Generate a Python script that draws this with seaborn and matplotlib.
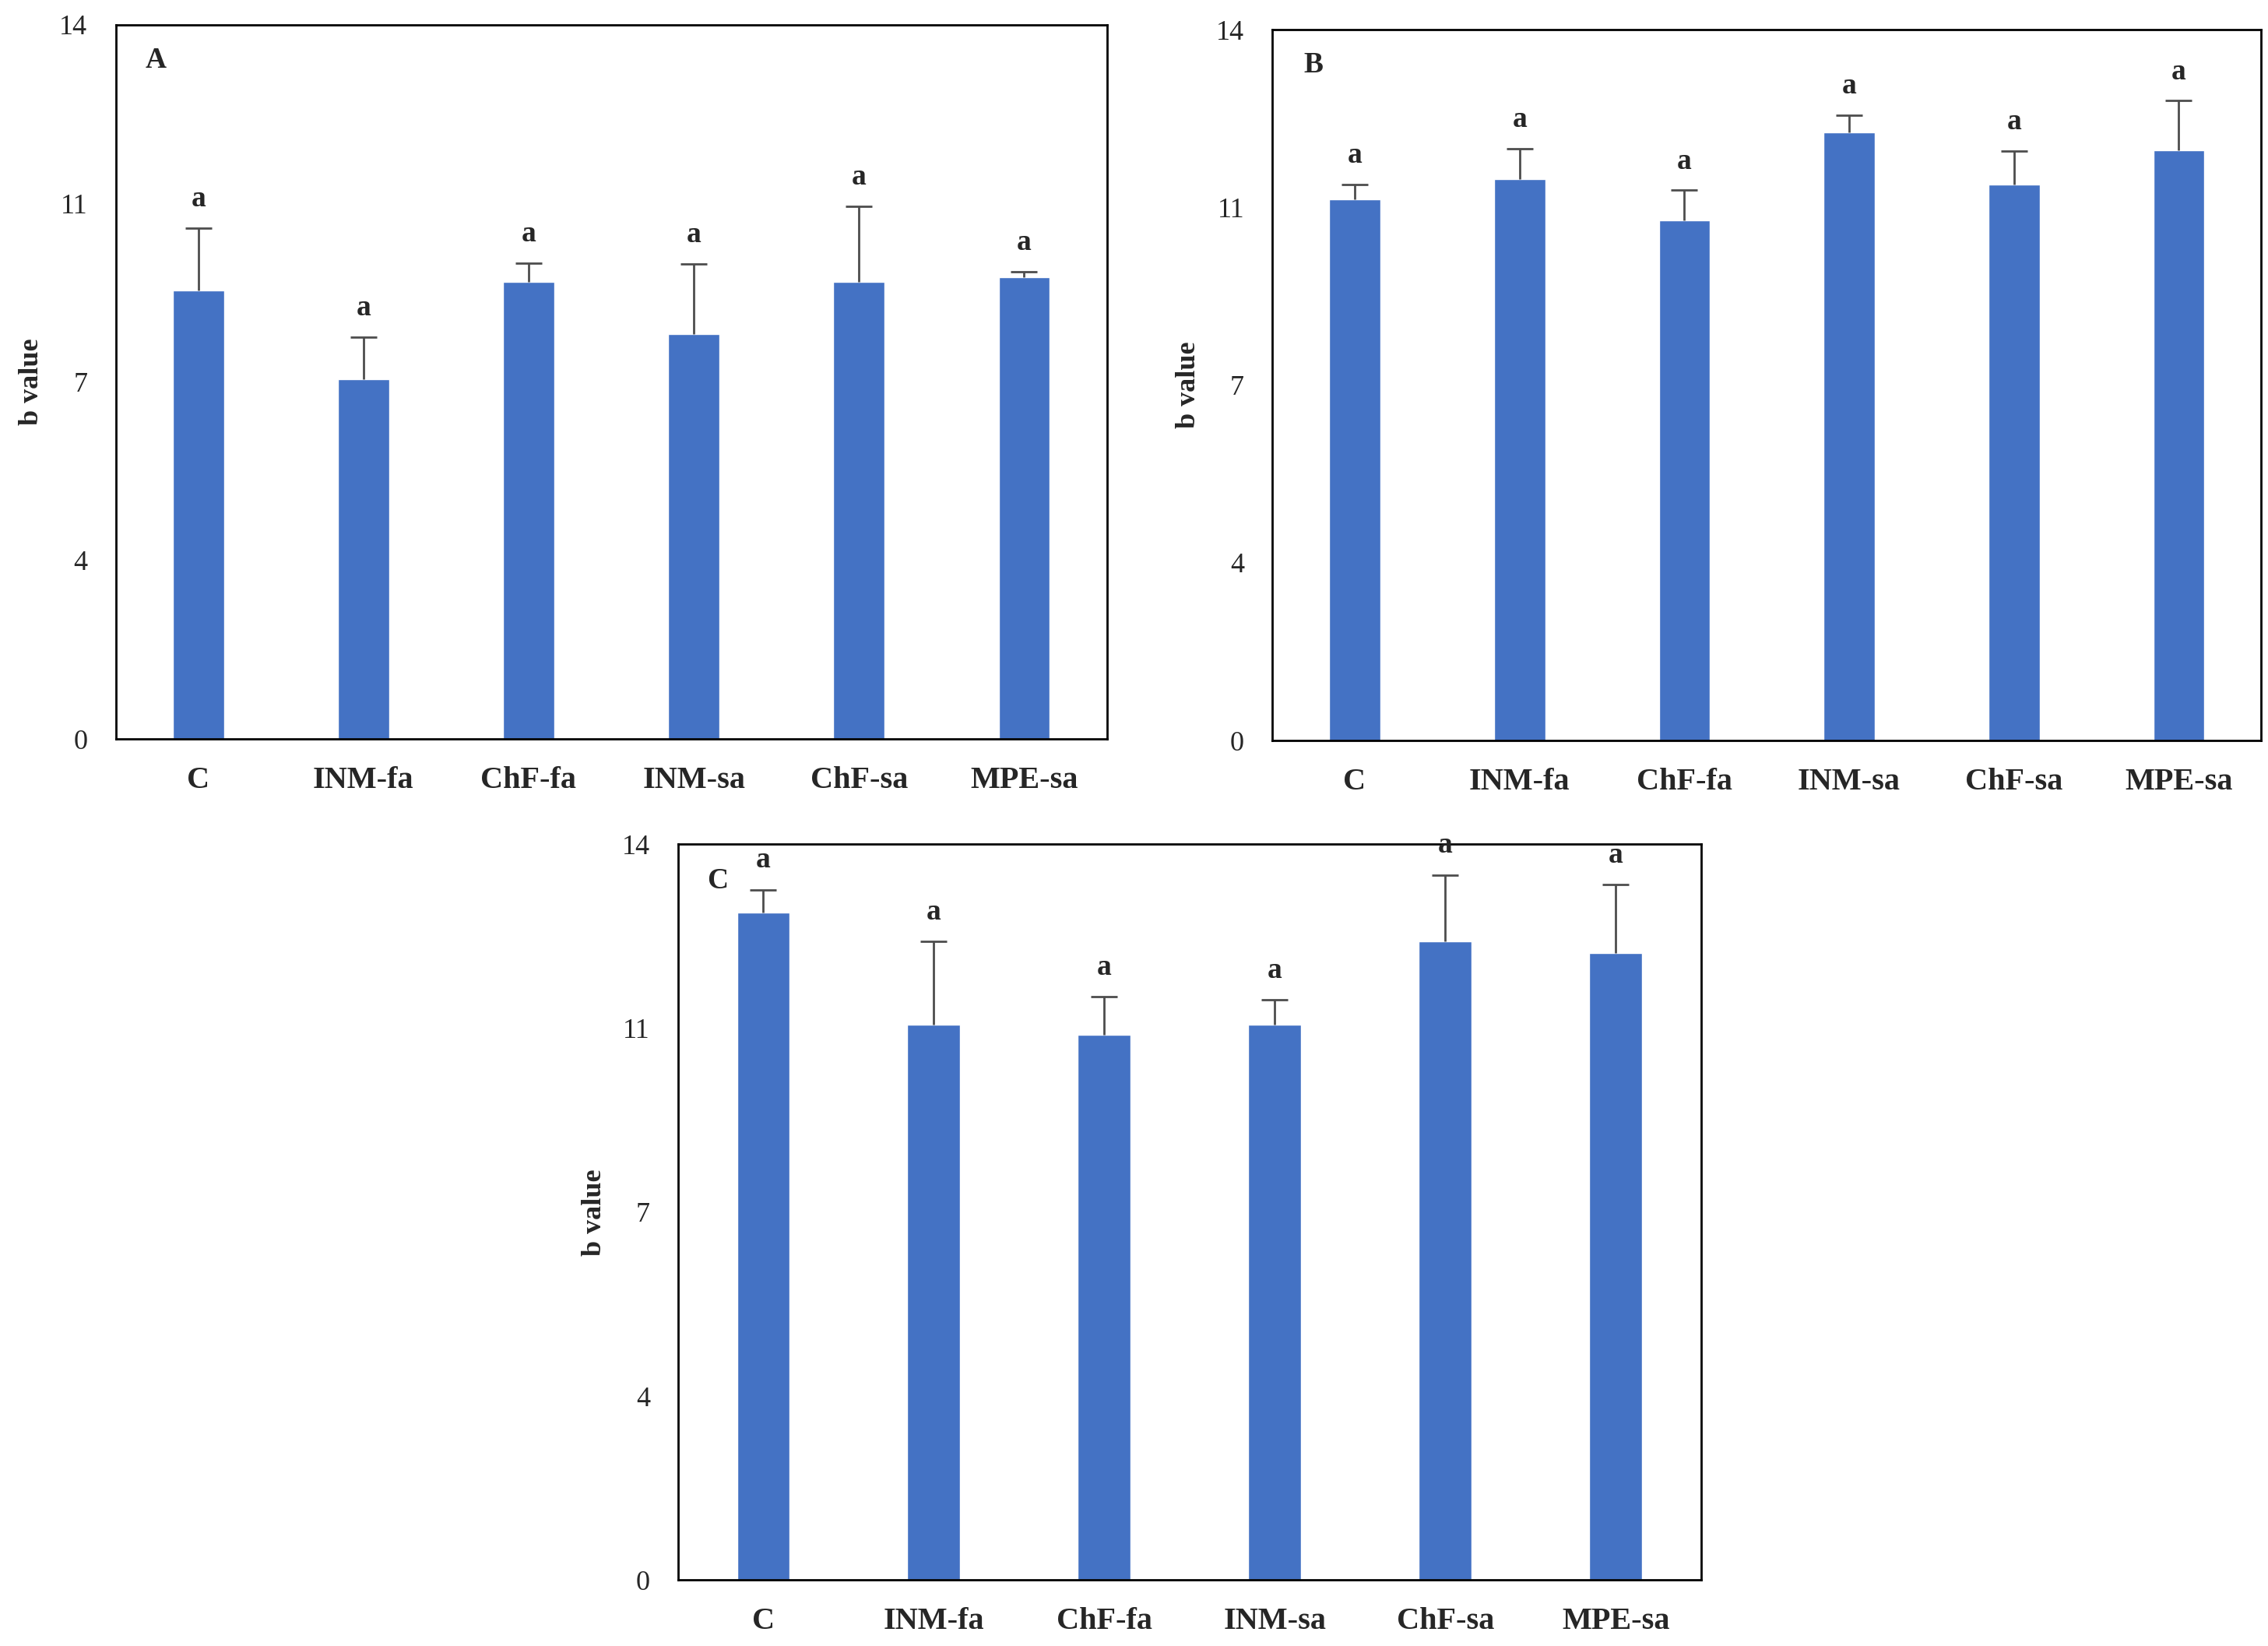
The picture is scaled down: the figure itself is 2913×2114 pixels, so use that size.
#!/usr/bin/env python3
"""
b value bar charts for three storage panels (A, B, C)
"""

import pandas as pd
import matplotlib.pyplot as plt
import seaborn as sns

treatments = ['C', 'INM-fa', 'ChF-fa', 'INM-sa', 'ChF-sa', 'MPE-sa']

# mean b values and upper error (SD)
b_mean_A = [8.79, 7.06, 8.96, 7.94, 8.96, 9.05]
b_err_A = [1.23, 0.82, 0.37, 1.37, 1.48, 0.11]
b_mean_B = [10.66, 11.06, 10.24, 11.98, 10.95, 11.63]
b_err_B = [0.29, 0.60, 0.60, 0.34, 0.66, 0.97]
b_mean_C = [12.70, 10.57, 10.38, 10.57, 12.15, 11.93]
b_err_C = [0.44, 1.58, 0.72, 0.47, 1.27, 1.30]
letters = ['a', 'a', 'a', 'a', 'a', 'a']

y_ticks = [0, 3.5, 7, 10.5, 14]
y_tick_labels = ['0', '4', '7', '11', '14']

BAR_COLOR = '#4472C4'
SERIF = ['Liberation Serif', 'DejaVu Serif']


def draw_panel(ax, means, errs, panel, panel_x, ylabel_x):
    df = pd.DataFrame({'treatment': treatments, 'b': means, 'err': errs})
    sns.barplot(data=df, x='treatment', y='b', color=BAR_COLOR, width=0.31,
                errorbar=None, saturation=1, ax=ax)
    xs = list(range(len(df)))
    eb = ax.errorbar(xs, df['b'], yerr=[[0] * len(df), df['err']], fmt='none',
                     ecolor='#4d4d4d', elinewidth=2, capsize=12, capthick=2)
    # only the upper cap is drawn, as in the original
    eb[1][0].set_visible(False)

    for x, m, e, lt in zip(xs, df['b'], df['err'], letters):
        ax.text(x, m + e + 0.3, lt, ha='center', va='bottom',
                fontsize=27, fontweight='bold', family=SERIF)

    ax.text(panel_x, 0.95, panel, transform=ax.transAxes, ha='left', va='center',
            fontsize=27, fontweight='bold', family=SERIF)

    ax.set_xlim(-0.5, len(df) - 0.5)
    ax.set_ylim(0, 14)
    ax.set_yticks(y_ticks)
    ax.set_yticklabels(y_tick_labels, fontsize=26, family=SERIF)
    for lab in ax.get_xticklabels():
        lab.set_fontsize(29)
        lab.set_fontweight('bold')
        lab.set_family(SERIF)
    ax.tick_params(axis='both', length=0)
    ax.tick_params(axis='y', pad=26)
    ax.tick_params(axis='x', pad=25)
    ax.set_xlabel('')
    ax.set_ylabel('b value', fontsize=26, fontweight='bold', family=SERIF)
    ax.yaxis.set_label_coords(ylabel_x, 0.5)
    for sp in ax.spines.values():
        sp.set_visible(True)
        sp.set_color('black')
        sp.set_linewidth(2)
    ax.grid(False)


def main():
    sns.set_style('white')
    plt.rcParams['font.family'] = SERIF

    fig = plt.figure(figsize=(29.13, 21.14), dpi=100)
    ax_a = fig.add_axes([0.051, 0.551, 0.437, 0.434])
    ax_b = fig.add_axes([0.561, 0.550, 0.436, 0.432])
    ax_c = fig.add_axes([0.299, 0.040, 0.451, 0.447])

    draw_panel(ax_a, b_mean_A, b_err_A, 'A', 0.03, -0.072)
    draw_panel(ax_b, b_mean_B, b_err_B, 'B', 0.032, -0.072)
    draw_panel(ax_c, b_mean_C, b_err_C, 'C', 0.028, -0.069)

    fig.savefig('out.png', dpi=100, facecolor='white')
    plt.close(fig)


if __name__ == "__main__":
    main()
